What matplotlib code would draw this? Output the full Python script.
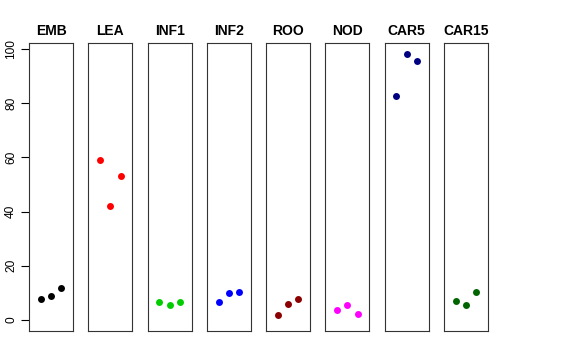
import matplotlib.pyplot as plt
import numpy as np

plt.rcParams['font.family'] = ['Liberation Sans', 'DejaVu Sans']

tissues = ['EMB', 'LEA', 'INF1', 'INF2', 'ROO', 'NOD', 'CAR5', 'CAR15']
colors = ['black', 'red', '#00CD00', 'blue', '#8B0000', 'magenta', '#000080', '#006400']
reps = [1, 2, 3]
emb = [7.9, 9.0, 11.7]
lea = [59.0, 42.1, 53.1]
inf1 = [6.5, 5.7, 6.6]
inf2 = [6.8, 10.0, 10.2]
roo = [1.7, 5.9, 7.7]
nod = [3.7, 5.7, 2.1]
car5 = [82.8, 98.3, 95.5]
car15 = [7.0, 5.7, 10.2]
values = [emb, lea, inf1, inf2, roo, nod, car5, car15]

fig, axes = plt.subplots(1, 8, figsize=(5.76, 3.6), dpi=100, sharey=True)
fig.subplots_adjust(left=29/576, right=488/576, top=1-43/360, bottom=1-331/360, wspace=0.34)

for i, ax in enumerate(axes):
    ax.scatter(reps, values[i], s=25, color=colors[i], zorder=3, linewidths=0)
    ax.set_xlim(-0.16, 4.16)
    ax.set_ylim(-4.06, 102.2)
    ax.set_xticks([])
    ax.set_title(tissues[i], fontsize=10, fontweight='bold', pad=6)
    for s in ax.spines.values():
        s.set_linewidth(0.8)
        s.set_color('#333333')
    if i > 0:
        ax.tick_params(axis='y', left=False, labelleft=False)

ax0 = axes[0]
ax0.set_yticks([0, 20, 40, 60, 80, 100])
ax0.tick_params(axis='y', length=6, width=0.8, pad=2.5, labelsize=8.6)
for lab in ax0.get_yticklabels():
    lab.set_rotation(90)
    lab.set_va('center')

fig.savefig('out.png', dpi=100)
